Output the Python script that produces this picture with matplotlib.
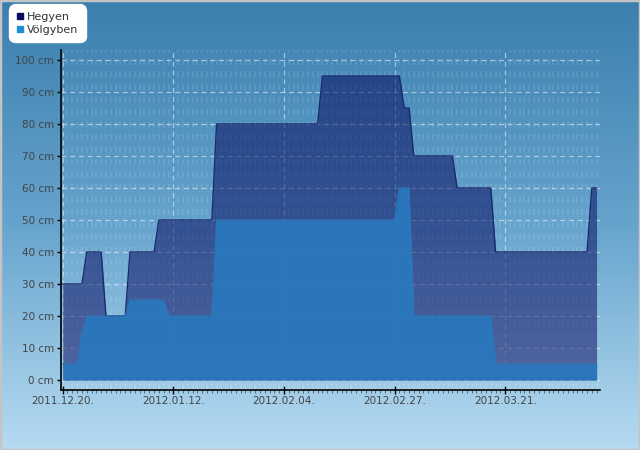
import matplotlib
matplotlib.use('Agg')
import matplotlib.pyplot as plt
import matplotlib.dates as mdates
from matplotlib.lines import Line2D
from matplotlib.patches import Rectangle
import numpy as np
import pandas as pd

## daily snow depth (cm), 2011.12.20. - 2012.04.09.
start_date = '2011-12-20'
hegyen   = [30, 30, 30, 30, 30, 40, 40, 40, 40, 20,
            20, 20, 20, 20, 40, 40, 40, 40, 40, 40,
            50, 50, 50, 50, 50, 50, 50, 50, 50, 50,
            50, 50, 80, 80, 80, 80, 80, 80, 80, 80,
            80, 80, 80, 80, 80, 80, 80, 80, 80, 80,
            80, 80, 80, 80, 95, 95, 95, 95, 95, 95,
            95, 95, 95, 95, 95, 95, 95, 95, 95, 95,
            95, 85, 85, 70, 70, 70, 70, 70, 70, 70,
            70, 70, 60, 60, 60, 60, 60, 60, 60, 60,
            40, 40, 40, 40, 40, 40, 40, 40, 40, 40,
            40, 40, 40, 40, 40, 40, 40, 40, 40, 40,
            60, 60]
volgyben = [5, 5, 5, 5, 15, 20, 20, 20, 20, 20,
            20, 20, 20, 20, 25, 25, 25, 25, 25, 25,
            25, 25, 20, 20, 20, 20, 20, 20, 20, 20,
            20, 20, 50, 50, 50, 50, 50, 50, 50, 50,
            50, 50, 50, 50, 50, 50, 50, 50, 50, 50,
            50, 50, 50, 50, 50, 50, 50, 50, 50, 50,
            50, 50, 50, 50, 50, 50, 50, 50, 50, 50,
            60, 60, 60, 20, 20, 20, 20, 20, 20, 20,
            20, 20, 20, 20, 20, 20, 20, 20, 20, 20,
            5, 5, 5, 5, 5, 5, 5, 5, 5, 5,
            5, 5, 5, 5, 5, 5, 5, 5, 5, 5,
            5, 5]
series_names = ['Hegyen', 'Völgyben']
y_ticks = np.arange(0, 101, 10)
x_tick_dates = ['2011-12-20', '2012-01-12', '2012-02-04', '2012-02-27', '2012-03-21']

dates = pd.date_range(start_date, periods=len(hegyen), freq='D')
x = mdates.date2num(dates)

fig = plt.figure(figsize=(6.4, 4.5), dpi=100)

# background gradient over the whole figure
bg_ax = fig.add_axes([0, 0, 1, 1], zorder=-5)
grad = np.linspace(0, 1, 256).reshape(-1, 1)
bg_cmap = matplotlib.colors.LinearSegmentedColormap.from_list(
    'bg', ['#3a7fae', '#67a4cd', '#b6dbf2'])
bg_ax.imshow(grad, aspect='auto', cmap=bg_cmap, extent=[0, 1, 0, 1])
bg_ax.set_axis_off()
fig.patches.append(Rectangle((0, 0), 1, 1, transform=fig.transFigure, fill=False,
                             edgecolor='#c4c4c4', linewidth=2.5, zorder=10))

ax = fig.add_axes([0.0953, 0.1333, 0.8422, 0.7556])
ax.set_facecolor('none')

x0 = mdates.date2num(pd.Timestamp(start_date))
ax.set_xlim(x0 - 0.35, x0 + 111.7)
ax.set_ylim(-3.125, 103.125)

# grid
ax.set_xticks(mdates.date2num(pd.to_datetime(x_tick_dates)))
ax.xaxis.set_major_formatter(mdates.DateFormatter('%Y.%m.%d.'))
ax.xaxis.set_minor_locator(mdates.DayLocator())
ax.set_yticks(y_ticks)
ax.set_yticklabels(['%d cm' % v for v in y_ticks])
ax.grid(True, which='major', color='white', alpha=0.5, linestyle=(0, (4, 3)), linewidth=0.9)
ax.grid(True, which='minor', axis='x', color='white', alpha=0.12, linestyle=(0, (3.5, 4)), linewidth=1.2)
ax.set_axisbelow(True)

ax.fill_between(x, 0, hegyen, color='#000058', alpha=0.5, linewidth=0, zorder=2)
ax.plot(x, hegyen, color='#1a2a6e', linewidth=1.0, zorder=3)
ax.fill_between(x, 0, volgyben, color='#2a78bc', alpha=0.95, linewidth=0, zorder=4)
ax.plot(x, volgyben, color='#2a78bc', linewidth=0.8, zorder=4)

for side in ['top', 'right']:
    ax.spines[side].set_visible(False)
for side in ['left', 'bottom']:
    ax.spines[side].set_color('black')
    ax.spines[side].set_linewidth(1.2)

ax.tick_params(axis='both', which='major', labelsize=7.5, labelcolor='#444444',
               color='black', length=3, width=1)
ax.tick_params(axis='x', which='major', direction='inout', length=6, pad=1)
ax.tick_params(axis='x', which='minor', direction='out', length=2, color='#555555', width=0.6)
ax.tick_params(axis='y', which='major', pad=2)

handles = [Line2D([], [], marker='s', linestyle='none', markersize=5,
                  markerfacecolor='#0b0b5e', markeredgecolor='#0b0b5e'),
           Line2D([], [], marker='s', linestyle='none', markersize=5,
                  markerfacecolor='#1e8fd6', markeredgecolor='#1e8fd6')]
leg = fig.legend(handles, series_names, loc='upper left', bbox_to_anchor=(0.019, 0.984),
                 fontsize=8, frameon=True, fancybox=True, framealpha=1,
                 handlelength=0.6, handletextpad=0.35, borderpad=0.4, labelspacing=0.3,
                 borderaxespad=0)
leg.get_frame().set_edgecolor('white')
leg.get_frame().set_boxstyle('round', pad=0.25, rounding_size=0.6)
for t in leg.get_texts():
    t.set_color('#333333')

plt.savefig('out.png', dpi=100)
